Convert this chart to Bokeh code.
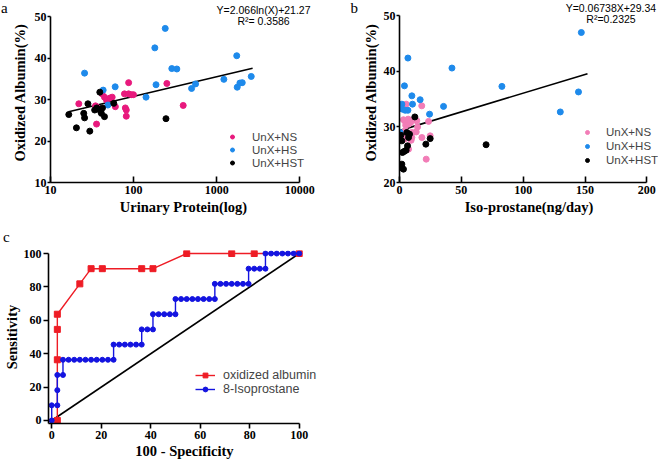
from bokeh.plotting import figure
from bokeh.layouts import column, row
from bokeh.models import Label, Legend, LegendItem, FixedTicker, PrintfTickFormatter
from bokeh.embed import file_html
from bokeh.resources import INLINE

# ---------------- data: panel a ----------------
a_ns_x = [21.9, 34.8, 36.3, 35.8, 41.7, 44.6, 47.2, 55.2, 60.3, 77.6, 79.5, 81.6, 81.6, 87.1, 87.0, 94.0, 99.5, 251, 395, 52]
a_ns_y = [29.0, 28.5, 28.1, 24.1, 31.4, 30.6, 29.9, 30.6, 28.3, 31.4, 28.0, 27.5, 26.0, 34.1, 31.4, 31.2, 31.2, 33.9, 28.6, 30.4]
a_hs_x = [25.7, 43, 49, 60, 141, 180, 186, 240, 288, 331, 498, 556, 1218, 1740, 1763, 1898, 2027, 2600]
a_hs_y = [36.4, 32.3, 28.7, 33.1, 30.6, 42.5, 33.6, 47.2, 37.5, 37.4, 32.7, 33.8, 34.9, 40.6, 33.0, 34.0, 34.1, 35.6]
a_hst_x = [16.6, 20.5, 25.1, 25.7, 28.2, 29.7, 34, 39.2, 39.8, 40.9, 42.2, 44.6, 57.7, 245, 36]
a_hst_y = [26.4, 23.2, 26.7, 25.6, 29.0, 22.4, 27.5, 31.8, 27.3, 26.7, 28.0, 25.9, 29.1, 25.4, 28.0]
a_fit_x = [16.5, 2700]
a_fit_y = [27.1, 37.6]
a_xticks = [10, 100, 1000, 10000]
a_yticks = [10, 20, 30, 40, 50]

# ---------------- data: panel b ----------------
b_ns_x = [5.4, 18.0, 23.5, 13.5, 14.6, 13.5, 3.2, 4.6, 6.0, 7.3, 8.6, 5.0, 7.0, 9.0, 14.0, 10.0, 8.9, 4.6, 3.2, 4.0, 18.1, 24.8, 7.3, 21.6, 10.0, 9.4]
b_ns_y = [34.1, 33.8, 31.0, 31.2, 30.0, 29.1, 31.3, 31.0, 31.2, 30.5, 31.2, 30.3, 31.4, 30.8, 31.1, 29.0, 28.4, 29.3, 28.4, 27.8, 28.1, 28.4, 26.0, 24.2, 28.1, 27.6]
b_hs_x = [1.9, 2.4, 4.6, 6.8, 4.0, 6.8, 10.0, 10.5, 16.7, 24.3, 35.6, 42.4, 82.8, 130, 144.7, 147, 0.5]
b_hs_y = [34.1, 33.2, 33.0, 33.0, 37.4, 42.4, 35.6, 34.1, 34.9, 32.3, 33.7, 40.6, 37.3, 32.7, 36.3, 47.0, 29.0]
b_hst_x = [12.4, 1.1, 3.2, 1.9, 2.4, 3.8, 5.4, 6.5, 1.9, 1.1, 8.1, 7.3, 21.3, 24.8, 70, 5.9]
b_hst_y = [31.8, 22.7, 22.4, 23.3, 25.4, 25.6, 25.8, 26.6, 27.5, 28.5, 28.7, 28.1, 26.9, 27.9, 26.8, 29.0]
b_fit_x = [0, 152]
b_fit_y = [29.34, 39.58]
b_xticks = [0, 50, 100, 150, 200]
b_yticks = [20, 30, 40, 50]

# ---------------- data: panel c (ROC) ----------------
oxa_x = [2.27, 2.27, 2.27, 2.27, 11.36, 15.91, 20.45, 36.36, 40.91, 54.55, 72.73, 81.82, 100]
oxa_y = [0, 36.36, 54.55, 63.64, 81.82, 90.91, 90.91, 90.91, 90.91, 100, 100, 100, 100]
iso_x = [0, 0, 2.27, 2.27, 2.27, 4.55, 4.55, 6.82, 9.09, 11.36, 13.64, 15.91, 18.18, 20.45, 22.73, 25.0,
         25.0, 27.27, 29.55, 31.82, 34.09, 36.36, 36.36, 38.64, 40.91, 40.91, 43.18, 45.45, 47.73, 50.0,
         50.0, 52.27, 54.55, 56.82, 59.09, 61.36, 63.64, 65.91, 65.91, 68.18, 70.45, 72.73, 75.0, 77.27, 79.55,
         79.55, 81.82, 84.09, 86.36, 86.36, 88.64, 90.91, 93.18, 95.45, 97.73, 100]
iso_y = [0, 9.09, 9.09, 18.18, 27.27, 27.27, 36.36, 36.36, 36.36, 36.36, 36.36, 36.36, 36.36, 36.36, 36.36, 36.36,
         45.45, 45.45, 45.45, 45.45, 45.45, 45.45, 54.55, 54.55, 54.55, 63.64, 63.64, 63.64, 63.64, 63.64,
         72.73, 72.73, 72.73, 72.73, 72.73, 72.73, 72.73, 72.73, 81.82, 81.82, 81.82, 81.82, 81.82, 81.82, 81.82,
         90.91, 90.91, 90.91, 90.91, 100, 100, 100, 100, 100, 100, 100]
diag_x = [0, 100]
diag_y = [0, 100]
c_ticks = [0, 20, 40, 60, 80, 100]

SERIF = "Liberation Serif"
SANS = "Liberation Sans"
PINK_A = "#E8197D"
PINK_B = "#F27DB7"
BLUE = "#1E8AEB"
RED = "#EE1C25"
ROCBLUE = "#1414E0"


def style_axis(ax, tick_in, tick_out, lab_off, title_off, tsize="14.5px"):
    ax.axis_line_width = 1.6
    ax.major_tick_line_width = 1.6
    ax.major_tick_out = tick_out
    ax.major_tick_in = tick_in
    ax.minor_tick_line_color = None
    ax.major_label_text_font = SERIF
    ax.major_label_text_font_style = "bold"
    ax.major_label_text_font_size = "12px"
    ax.major_label_text_color = "black"
    ax.major_label_standoff = lab_off
    ax.axis_label_text_font = SERIF
    ax.axis_label_text_font_style = "bold"
    ax.axis_label_text_font_size = tsize
    ax.axis_label_text_color = "black"
    ax.axis_label_standoff = title_off


def clean(p, xlabel, ylabel):
    p.outline_line_color = None
    p.xgrid.grid_line_color = None
    p.ygrid.grid_line_color = None
    p.xaxis.axis_label = xlabel
    p.yaxis.axis_label = ylabel


def lab(p, x, y, text, size, font=SANS, align="center", side=None):
    L = Label(x=x, y=y, text=text, text_font=font, text_font_size=size,
              text_align=align, text_baseline="middle", text_color="black")
    if side is None:
        p.add_layout(L)
    else:
        p.add_layout(L, side)


def make_legend(p, items, loc, gw, gh, standoff, fsize):
    leg = Legend(items=items, location=loc, glyph_width=gw, glyph_height=gh,
                 label_height=gh, label_standoff=standoff, spacing=0, padding=0, margin=0,
                 border_line_color=None, background_fill_alpha=0,
                 label_text_font=SANS, label_text_font_size=fsize)
    p.add_layout(leg)


# ---------------- panel a ----------------
pa = figure(x_axis_type="log", x_range=(10, 15850), y_range=(10, 53.45),
            frame_width=266, frame_height=180,
            min_border_left=50, min_border_right=30, min_border_top=2, min_border_bottom=42,
            output_backend="svg", toolbar_location=None)
clean(pa, "Urinary Protein(log)", "Oxidized Albumin(%)")
style_axis(pa.xaxis[0], 6, 0, 3, 2)
style_axis(pa.yaxis[0], 0, 3, 1, 4)
pa.xaxis.ticker = FixedTicker(ticks=a_xticks)
pa.xaxis.formatter = PrintfTickFormatter(format="%d")
pa.yaxis.ticker = FixedTicker(ticks=a_yticks)
pa.xaxis.bounds = (10, 10000)
pa.yaxis.bounds = (10, 50)
pa.line(a_fit_x, a_fit_y, line_color="black", line_width=1.6)
ra1 = pa.scatter(a_ns_x, a_ns_y, size=6, color=PINK_A)
ra2 = pa.scatter(a_hs_x, a_hs_y, size=6, color=BLUE)
ra3 = pa.scatter(a_hst_x, a_hst_y, size=6, color="black")
make_legend(pa, [LegendItem(label="UnX+NS", renderers=[ra1]),
                 LegendItem(label="UnX+HS", renderers=[ra2]),
                 LegendItem(label="UnX+HST", renderers=[ra3])],
            (177, 13), 10, 13, 15, "11.5px")
lab(pa, 3656, 51.71, "Y=2.066ln(X)+21.27", "10.5px")
lab(pa, 3656, 48.91, "R\u00b2= 0.3586", "10.5px")
lab(pa, 2.79, 52.05, "a", "15px", font=SERIF, side="left")

# ---------------- panel b ----------------
pb = figure(x_range=(0, 209.4), y_range=(20, 52.4),
            frame_width=259, frame_height=180,
            min_border_left=53, min_border_right=0, min_border_top=2, min_border_bottom=42,
            output_backend="svg", toolbar_location=None)
clean(pb, "Iso-prostane(ng/day)", "Oxidized Albumin(%)")
style_axis(pb.xaxis[0], 6, 0, 3, 2)
style_axis(pb.yaxis[0], 0, 3, 1, 2)
pb.xaxis.ticker = FixedTicker(ticks=b_xticks)
pb.yaxis.ticker = FixedTicker(ticks=b_yticks)
pb.xaxis.bounds = (0, 200)
pb.yaxis.bounds = (20, 50)
pb.line(b_fit_x, b_fit_y, line_color="black", line_width=1.6)
rb1 = pb.scatter(b_ns_x, b_ns_y, size=6, color=PINK_B)
rb2 = pb.scatter(b_hs_x, b_hs_y, size=6, color=BLUE)
rb3 = pb.scatter(b_hst_x, b_hst_y, size=6, color="black")
make_legend(pb, [LegendItem(label="UnX+NS", renderers=[rb1]),
                 LegendItem(label="UnX+HS", renderers=[rb2]),
                 LegendItem(label="UnX+HST", renderers=[rb3])],
            (183, 15), 10, 14, 14, "11.5px")
lab(pb, 207.5, 51.41, "Y=0.06738X+29.34", "10.5px", align="right")
lab(pb, 171, 49.47, "R\u00b2=0.2325", "10.5px")
lab(pb, -36.6, 51.37, "b", "15px", font=SERIF, side="left")

# ---------------- panel c ----------------
pc = figure(x_range=(-1.3, 108.6), y_range=(-1.8, 101.8),
            frame_width=272, frame_height=173,
            min_border_left=46, min_border_right=20, min_border_top=26, min_border_bottom=36,
            output_backend="svg", toolbar_location=None)
clean(pc, "100 - Specificity", "Sensitivity")
style_axis(pc.xaxis[0], 0, 5, 2, 1)
style_axis(pc.yaxis[0], 0, 5, 2, 1)
pc.xaxis.ticker = FixedTicker(ticks=c_ticks)
pc.yaxis.ticker = FixedTicker(ticks=c_ticks)
pc.xaxis.bounds = (-1.3, 100)
pc.yaxis.bounds = (-1.8, 100)
pc.line(diag_x, diag_y, line_color="black", line_width=1.6)
l1 = pc.line(oxa_x, oxa_y, line_color=RED, line_width=1.4)
s1 = pc.scatter(oxa_x, oxa_y, marker="square", size=6, color=RED)
l2 = pc.line(iso_x, iso_y, line_color=ROCBLUE, line_width=1.4)
s2 = pc.scatter(iso_x, iso_y, marker="circle", size=5, color=ROCBLUE)
make_legend(pc, [LegendItem(label="oxidized albumin", renderers=[l1, s1]),
                 LegendItem(label="8-Isoprostane", renderers=[l2, s2])],
            (147, 27), 20, 12, 8, "12.5px")
lab(pc, -18.3, 110, "c", "15px", font=SERIF, side="above")

layout = column(row(pa, pb), pc)
open("out.html", "w").write(file_html(layout, INLINE))
